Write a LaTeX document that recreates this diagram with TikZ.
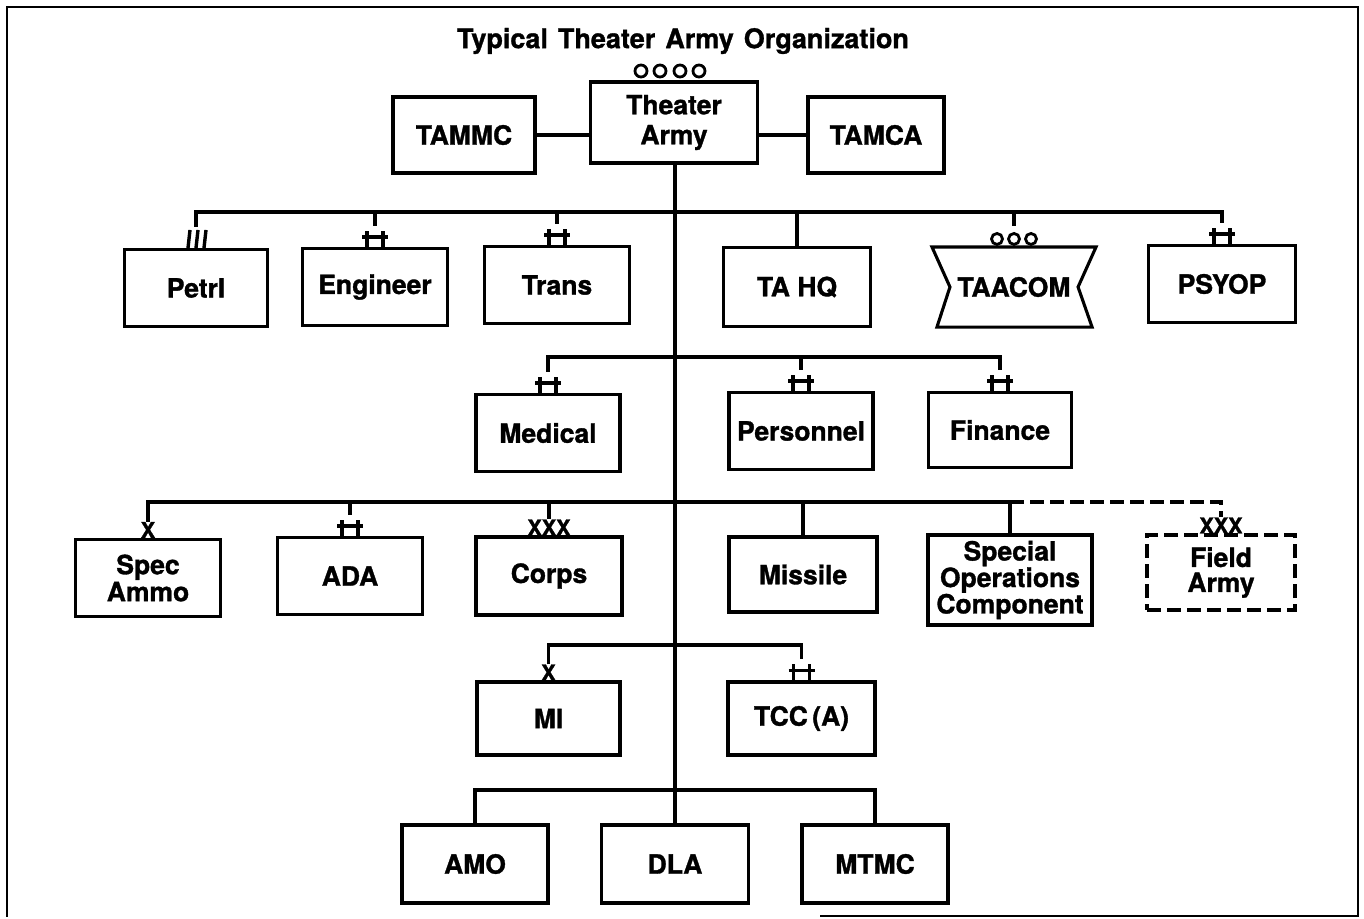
\documentclass[tikz,border=0pt]{standalone}
\usepackage{fontspec}
\setmainfont{TeX Gyre Heros}[BoldFeatures = {FakeBold = 1.2}]
\begin{document}
\begin{tikzpicture}[x = 1pt, y = -1pt,
        unit/.style = {draw, line width = 3.1pt, minimum width = 145pt, minimum height = 77pt,
            inner sep = 0pt, align = center, font = \bfseries\fontsize{26.5}{26}\selectfont},
        link/.style = {line width = 3.6pt},
        ech/.style = {inner sep = 0pt, anchor = south, font = \bfseries\fontsize{21.5}{21}\selectfont},
        sym/.style = {inner sep = 0pt, anchor = south, minimum width = 26pt, minimum height = 21pt},
        bar/.style = {line width = 3.1pt}]
    \useasboundingbox (0,0) rectangle (1364,918);
    \draw[line width = 1.8pt] (820,916) -- (1358,916) -- (1358,7) -- (7,7) -- (7,917);
    \node[font = \bfseries\fontsize{27}{27}\selectfont] (title) at (683,41)
        {Typical\hspace{10pt}Theater\hspace{10pt}Army\hspace{10pt}Organization};

    % theater army and its centres
    \node[unit, minimum width = 167pt, minimum height = 81pt,
        font = \bfseries\fontsize{26.5}{30}\selectfont] (army) at (674,122.5) {Theater\\Army};
    \node[unit, minimum width = 142pt, minimum height = 76pt] (tammc) at (464,135) {TAMMC};
    \node[unit, minimum width = 136pt, minimum height = 76pt] (tamca) at (876,135) {TAMCA};
    \draw[link] (tammc.east) -- (tammc.east -| army.west);
    \draw[link] (army.east |- tamca.west) -- (tamca.west);
    \foreach \x in {641, 660, 680, 699}
        \draw[bar, line width = 2.8pt] (\x,71) circle[radius = 6pt];

    % row one
    \coordinate (bus1) at (675,212);
    \node[unit, minimum width = 143pt] (petrl) at (196,288) {Petrl};
    \node[unit] (engineer) at (375,287) {Engineer};
    \node[unit] (trans) at (557,285) {Trans};
    \node[unit, minimum width = 147pt, minimum height = 79pt] (tahq) at (797,287) {TA HQ};
    \node[unit, draw = none, minimum width = 161pt] (taacom) at (1014,287) {TAACOM};
    \node[unit, minimum width = 147pt] (psyop) at (1222,284) {PSYOP};
    \draw[line width = 3.1pt] (taacom.north west) -- (taacom.north east) -- ([xshift = -18pt]taacom.east)
        -- ([xshift = -4pt]taacom.south east) -- ([xshift = 5pt]taacom.south west)
        -- ([xshift = 18pt]taacom.west) -- cycle;
    \node[sym] (petrlsym) at (petrl.north) {};
    \node[sym] (engsym) at (engineer.north) {};
    \node[sym] (transym) at (trans.north) {};
    \node[sym] (aacomsym) at (taacom.north) {};
    \node[sym] (psyopsym) at (psyop.north) {};
    \draw[link] (petrlsym.north) |- (psyopsym.north |- bus1) -- (psyopsym.north);
    \foreach \s in {engsym, transym, aacomsym}
        \draw[link] (\s.north |- bus1) -- (\s.north);
    \draw[link] (tahq.north |- bus1) -- (tahq.north);
    \foreach \dx in {-8, 0, 8}
        \draw[bar, line width = 3.4pt] ([xshift = \dx pt]petrlsym.south) -- ++(2,-18);
    \foreach \dx in {-17, 0, 17}
        \draw[bar, line width = 2.8pt] ([xshift = \dx pt, yshift = 8pt]aacomsym.south) circle[radius = 5.5pt];

    % row two
    \coordinate (bus2) at (675,357);
    \node[unit, minimum width = 144pt] (medical) at (548,433) {Medical};
    \node[unit, minimum width = 144pt] (personnel) at (801,431) {Personnel};
    \node[unit, minimum width = 143pt, minimum height = 75pt] (finance) at (1000,430) {Finance};
    \node[sym] (medsym) at (medical.north) {};
    \node[sym] (persym) at (personnel.north) {};
    \node[sym] (finsym) at (finance.north) {};
    \draw[link] (medsym.north) |- (finsym.north |- bus2) -- (finsym.north);
    \draw[link] (persym.north |- bus2) -- (persym.north);

    % row three
    \coordinate (bus3) at (675,502);
    \node[unit, font = \bfseries\fontsize{26.5}{27}\selectfont] (ammo) at (148,578) {Spec\\Ammo};
    \node[unit] (ada) at (350,576) {ADA};
    \node[unit, minimum width = 146pt, minimum height = 78pt] (corps) at (549,576) {Corps};
    \node[unit, minimum width = 148pt, minimum height = 75pt] (missile) at (803,574.5) {Missile};
    \node[unit, minimum width = 164pt, minimum height = 90pt,
        font = \bfseries\fontsize{26.5}{25}\selectfont] (soc) at (1010,580) {Special\\Operations\\Component};
    \node[unit, dash pattern = on 14pt off 6pt, minimum width = 148pt, minimum height = 75pt,
        font = \bfseries\fontsize{26.5}{25}\selectfont] (field) at (1221,572.5) {Field\\Army};
    \node[ech] (ammosym) at (ammo.north) {X};
    \node[sym] (adasym) at (ada.north) {};
    \node[ech] (corpssym) at (corps.north) {XXX};
    \node[ech] (fieldsym) at (field.north) {XXX};
    \draw[link] (ammosym.north) |- (soc.north |- bus3) -- (soc.north);
    \foreach \s in {adasym, corpssym, missile}
        \draw[link] (\s.north |- bus3) -- (\s.north);
    \draw[link, dash pattern = on 14pt off 6pt] (soc.north |- bus3) -| (fieldsym.north);

    % row four
    \coordinate (bus4) at (675,645);
    \node[unit, minimum width = 143pt, minimum height = 73pt] (mi) at (548.5,718.5) {MI};
    \node[unit, minimum width = 147pt, minimum height = 73pt] (tcc) at (801.5,718.5) {TCC\,(A)};
    \node[ech] (misym) at (mi.north) {X};
    \node[sym] (tccsym) at (tcc.north) {};
    \draw[link] (misym.north) |- (tccsym.north |- bus4) -- (tccsym.north);

    % row five
    \coordinate (bus5) at (675,790);
    \node[unit, minimum width = 146pt, minimum height = 78pt] (amo) at (475,864) {AMO};
    \node[unit, minimum width = 147pt, minimum height = 78pt] (dla) at (675,864) {DLA};
    \node[unit, minimum width = 146pt, minimum height = 78pt] (mtmc) at (875,864) {MTMC};
    \draw[link] (amo.north) |- (mtmc.north |- bus5) -- (mtmc.north);

    % trunk
    \draw[link] (army.south -| dla.north) -- (dla.north);

    % two-bar marks
    \foreach \s in {engsym, transym, psyopsym, medsym, persym, finsym, adasym, tccsym}
        \draw[bar] ([xshift = -8pt]\s.south) -- ++(0,-16) ([xshift = 8pt]\s.south) -- ++(0,-16)
            ([xshift = -13pt, yshift = 10pt]\s.south) -- ++(26,0);
\end{tikzpicture}
\end{document}
